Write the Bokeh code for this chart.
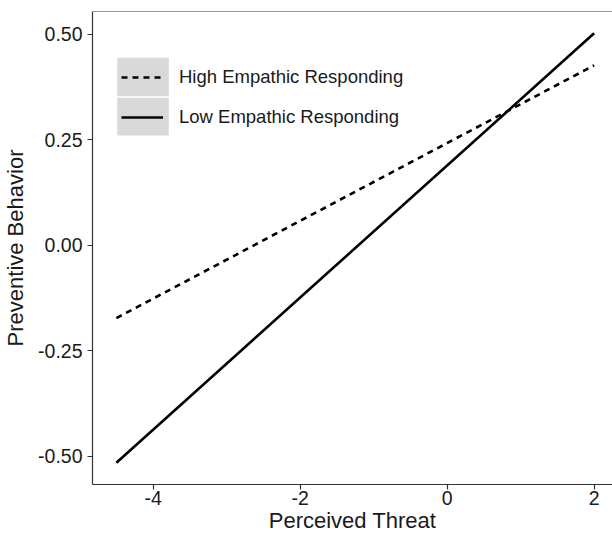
from bokeh.plotting import figure
from bokeh.models import (Range1d, FixedTicker, PrintfTickFormatter, Legend, LegendItem,
                          BoxAnnotation, Span)
from bokeh.embed import file_html
from bokeh.resources import INLINE

# ---- data ----
threat = [-4.5, 2.0]
high_empathic = [-0.172, 0.427]
low_empathic = [-0.515, 0.503]
series_labels = ["High Empathic Responding", "Low Empathic Responding"]
x_ticks = [-4, -2, 0, 2]
y_ticks = [-0.50, -0.25, 0.00, 0.25, 0.50]
x_title = "Perceived Threat"
y_title = "Preventive Behavior"

FONT = "Liberation Sans"
AXIS_COL = "#333333"
TEXT_COL = "#1a1a1a"

p = figure(width=612, height=536, output_backend="svg", toolbar_location=None,
           x_range=Range1d(-4.825, 2.25), y_range=Range1d(-0.5664, 0.5545),
           min_border_left=92, min_border_right=0, min_border_top=11, min_border_bottom=52)
p.background_fill_color = "white"
p.border_fill_color = "white"
p.outline_line_color = None
p.xgrid.visible = False
p.ygrid.visible = False

# top panel border
p.add_layout(Span(location=0.5545, dimension="width", line_color=AXIS_COL, line_width=1.2))

r_high = p.line(threat, high_empathic, line_color="black", line_width=2.6, line_dash="6 5")
r_low = p.line(threat, low_empathic, line_color="black", line_width=2.6)

for ax in (p.xaxis[0], p.yaxis[0]):
    ax.axis_line_color = AXIS_COL
    ax.axis_line_width = 1.2
    ax.major_tick_line_color = AXIS_COL
    ax.major_tick_line_width = 1.2
    ax.major_tick_out = 5
    ax.major_tick_in = 0
    ax.minor_tick_line_color = None
    ax.major_label_text_font = FONT
    ax.major_label_text_font_size = "19.5px"
    ax.major_label_text_color = TEXT_COL
    ax.axis_label_text_font = FONT
    ax.axis_label_text_font_size = "22px"
    ax.axis_label_text_font_style = "normal"
    ax.axis_label_text_color = TEXT_COL

p.xaxis.ticker = FixedTicker(ticks=x_ticks)
p.xaxis.formatter = PrintfTickFormatter(format="%d")
p.xaxis.axis_label = x_title
p.xaxis.major_label_standoff = 1
p.xaxis.axis_label_standoff = 0

p.yaxis.ticker = FixedTicker(ticks=y_ticks)
p.yaxis.formatter = PrintfTickFormatter(format="%.2f")
p.yaxis.axis_label = y_title
p.yaxis.major_label_standoff = 5
p.yaxis.axis_label_standoff = 7

# legend key backgrounds
for top, bottom in ((426.7, 388.3), (386.7, 349.0)):
    p.add_layout(BoxAnnotation(left=24.7, right=76.3, top=top, bottom=bottom,
                               left_units="screen", right_units="screen",
                               top_units="screen", bottom_units="screen",
                               fill_color="#d9d9d9", fill_alpha=1.0, line_color=None))

legend = Legend(items=[LegendItem(label=series_labels[0], renderers=[r_high]),
                       LegendItem(label=series_labels[1], renderers=[r_low])],
                location=(29, 348.5), padding=0, margin=0, spacing=2,
                glyph_width=42, glyph_height=38, label_standoff=16,
                label_text_font=FONT, label_text_font_size="18.5px",
                label_text_color=TEXT_COL,
                background_fill_alpha=0, border_line_color=None)
p.add_layout(legend, "center")

open("out.html", "w").write(file_html(p, INLINE))
